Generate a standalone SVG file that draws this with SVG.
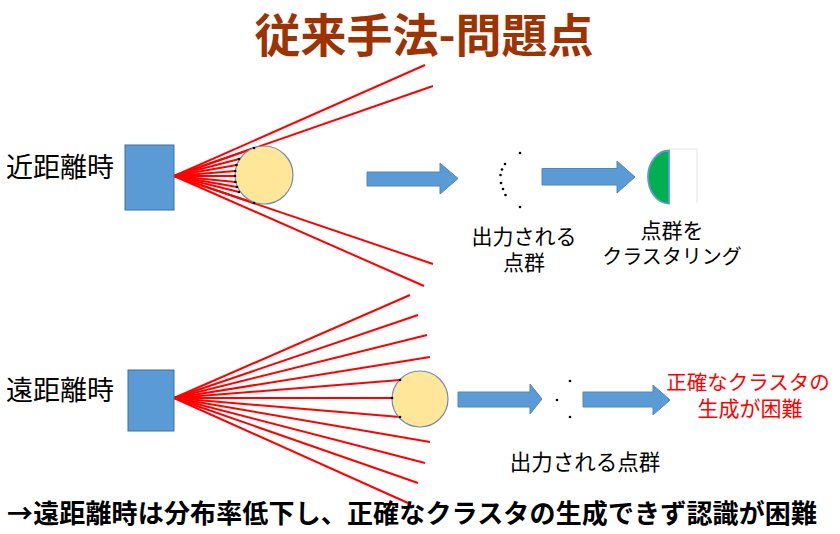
<svg xmlns="http://www.w3.org/2000/svg" width="840" height="534" viewBox="0 0 840 534">
<style>
.t{font-family:"Noto Sans CJK JP","Noto Sans CJK SC",sans-serif;}
.sensor{fill:#5B9BD5;stroke:#41719C;stroke-width:1;}
.obj{fill:#FFE699;stroke:#6D8DB3;stroke-width:1.2;}
.arrow{fill:#5B9BD5;stroke:#4F86BD;stroke-width:1;}
.ray{stroke:#FF0000;stroke-width:2;fill:none;}
.pt{fill:#000;}
</style>
<rect width="840" height="534" fill="#fff"/>
<text id="title" class="t" x="424" y="52" font-size="46" font-weight="bold" fill="#9C3300" text-anchor="middle">従来手法-問題点</text>

<g id="label-near"><text class="t" x="6" y="177" font-size="27" fill="#000">近距離時</text></g>
<g id="label-far"><text class="t" x="6" y="400" font-size="27" fill="#000">遠距離時</text></g>

<g id="connectors">
  <!-- near rays -->
  <g class="ray">
    <line x1="174" y1="176" x2="425" y2="65"/>
    <line x1="174" y1="176" x2="433" y2="86"/>
    <line x1="174" y1="176" x2="254" y2="148"/>
    <line x1="174" y1="176" x2="239" y2="159"/>
    <line x1="174" y1="176" x2="236.5" y2="165"/>
    <line x1="174" y1="176" x2="235.3" y2="171"/>
    <line x1="174" y1="176" x2="235" y2="176"/>
    <line x1="174" y1="176" x2="235.5" y2="182"/>
    <line x1="174" y1="176" x2="237" y2="187"/>
    <line x1="174" y1="176" x2="239" y2="192"/>
    <line x1="174" y1="176" x2="254" y2="203"/>
    <line x1="174" y1="176" x2="433" y2="264"/>
    <line x1="174" y1="176" x2="424" y2="286"/>
  </g>
  <!-- far rays -->
  <g class="ray">
    <line x1="174" y1="398" x2="410" y2="295"/>
    <line x1="174" y1="398" x2="418" y2="315"/>
    <line x1="174" y1="398" x2="427" y2="335"/>
    <line x1="174" y1="398" x2="430" y2="357"/>
    <line x1="174" y1="398" x2="400" y2="380"/>
    <line x1="174" y1="398" x2="392" y2="398"/>
    <line x1="174" y1="398" x2="400" y2="417"/>
    <line x1="174" y1="398" x2="430" y2="442"/>
    <line x1="174" y1="398" x2="425" y2="463"/>
    <line x1="174" y1="398" x2="418" y2="483"/>
    <line x1="174" y1="398" x2="408" y2="503"/>
  </g>
  <polygon id="arrow1" class="arrow" points="367,172 440,172 440,163 458,178.5 440,194 440,186 367,186"/>
  <polygon id="arrow2" class="arrow" points="542,168.5 617,168.5 617,161 635,177 617,193 617,185 542,185"/>
  <polygon id="arrow3" class="arrow" points="458,392 530,392 530,384 542,399 530,414 530,407 458,407"/>
  <polygon id="arrow4" class="arrow" points="583,392 653,392 653,385 670,400 653,415 653,407 583,407"/>
</g>

<g id="sensor-near"><rect class="sensor" x="125" y="145" width="49" height="65"/></g>
<g id="object-near">
  <circle class="obj" cx="264" cy="175" r="29"/>
  <g class="pt">
    <circle cx="254" cy="148" r="1.3"/><circle cx="239" cy="159" r="1.3"/><circle cx="236.5" cy="165" r="1.3"/>
    <circle cx="235.3" cy="171" r="1.3"/><circle cx="235" cy="176" r="1.3"/><circle cx="235.5" cy="182" r="1.3"/>
    <circle cx="237" cy="187" r="1.3"/><circle cx="239" cy="192" r="1.3"/><circle cx="254" cy="203" r="1.3"/>
  </g>
</g>

<g id="sensor-far"><rect class="sensor" x="128" y="370" width="46" height="61"/></g>
<g id="object-far">
  <circle class="obj" cx="420" cy="399" r="28"/>
  <g class="pt">
    <circle cx="400" cy="380" r="1.3"/><circle cx="392" cy="398" r="1.3"/><circle cx="400" cy="417" r="1.3"/>
  </g>
</g>

<g id="points-near">
  <g class="pt">
    <circle cx="520" cy="153" r="1.3"/><circle cx="505" cy="164" r="1.3"/><circle cx="502" cy="169.5" r="1.3"/>
    <circle cx="500.5" cy="175" r="1.3"/><circle cx="501" cy="183" r="1.3"/><circle cx="503" cy="189" r="1.3"/>
    <circle cx="505.5" cy="195" r="1.3"/><circle cx="520" cy="207" r="1.3"/>
  </g>
  <text class="t" x="524" y="243.5" font-size="21" fill="#000" text-anchor="middle">出力される</text>
  <text class="t" x="524" y="270" font-size="21" fill="#000" text-anchor="middle">点群</text>
</g>

<g id="cluster-near">
  <path d="M669,149 H697 V203" fill="none" stroke="#E3E3E3" stroke-width="1"/>
  <path d="M669,150.5 A21,26.5 0 0 0 669,203.5 Z" fill="#00B050" stroke="#5B9BD5" stroke-width="1.8"/>
  <text class="t" x="672" y="238" font-size="21" fill="#000" text-anchor="middle">点群を</text>
  <text class="t" x="672" y="264" font-size="20" fill="#000" text-anchor="middle">クラスタリング</text>
</g>

<g id="points-far">
  <g class="pt">
    <circle cx="570" cy="381" r="1.3"/><circle cx="557" cy="400" r="1.3"/><circle cx="570" cy="417" r="1.3"/>
  </g>
  <text class="t" x="585" y="470" font-size="21.5" fill="#000" text-anchor="middle">出力される点群</text>
</g>

<g id="result-far">
  <text class="t" x="748" y="390" font-size="20.5" fill="#FF0000" text-anchor="middle">正確なクラスタの</text>
  <text class="t" x="750" y="416" font-size="21" fill="#FF0000" text-anchor="middle">生成が困難</text>
</g>

<text id="conclusion" class="t" x="7" y="523" font-size="26" font-weight="bold" fill="#000" textLength="810">→遠距離時は分布率低下し、正確なクラスタの生成できず認識が困難</text>
</svg>
